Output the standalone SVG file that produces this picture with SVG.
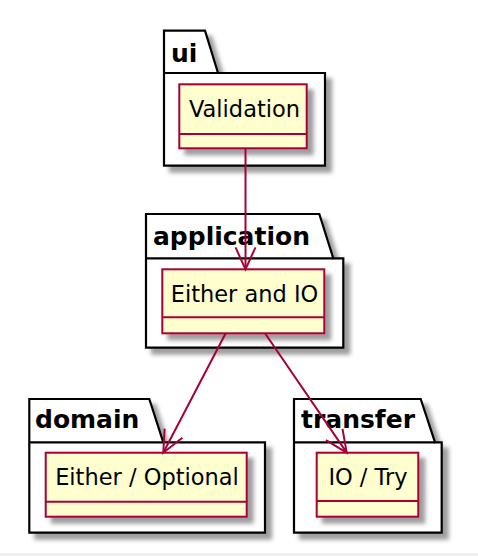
<svg xmlns="http://www.w3.org/2000/svg" width="478" height="556" viewBox="0 0 478 556">
<defs>
<filter id="sh" x="-10%" y="-10%" width="130%" height="130%">
<feDropShadow dx="6" dy="6" stdDeviation="2.2" flood-color="#000" flood-opacity="0.38"/>
</filter>
<style>
.pkg{fill:#fff;stroke:#000;stroke-width:2.2;filter:url(#sh)}
.tabl{stroke:#000;stroke-width:2.2;fill:none}
.pname{font-family:"DejaVu Sans",sans-serif;font-weight:bold;font-size:25px;fill:#000}
.cls{fill:#FEFECE;stroke:#A80036;stroke-width:2;filter:url(#sh)}
.sep{stroke:#A80036;stroke-width:2}
.cname{font-family:"DejaVu Sans",sans-serif;font-size:22.5px;fill:#000;text-anchor:middle}
.edge{stroke:#A80036;stroke-width:2;fill:none}
</style>
</defs>
<rect width="478" height="556" fill="#fff"/>
<rect x="0" y="553" width="478" height="3" fill="#efefef"/>

<g id="ui">
<path class="pkg" d="M164,30.7 H205 L218,73 H325 V165.7 H164 Z"/>
<line class="tabl" x1="164" y1="73" x2="218" y2="73"/>
<text class="pname" x="171" y="61.7">ui</text>
</g>
<g id="Validation">
<rect class="cls" x="179.3" y="84.3" width="127.4" height="64"/>
<line class="sep" x1="179.3" y1="134" x2="306.7" y2="134"/>
<text class="cname" x="244.5" y="117">Validation</text>
</g>

<g id="application">
<path class="pkg" d="M146,214 H319.3 L333.3,258.3 H343.3 V347.7 H146 Z"/>
<line class="tabl" x1="146" y1="258.3" x2="333.3" y2="258.3"/>
<text class="pname" x="153" y="245">application</text>
</g>
<g id="EitherAndIO">
<rect class="cls" x="162.3" y="269.3" width="162" height="64"/>
<line class="sep" x1="162.3" y1="317.3" x2="324.3" y2="317.3"/>
<text class="cname" x="244.5" y="301.8">Either and IO</text>
</g>

<g id="domain">
<path class="pkg" d="M29.3,399 H149.3 L163.3,442.3 H265 V532.7 H29.3 Z"/>
<line class="tabl" x1="29.3" y1="442.3" x2="163.3" y2="442.3"/>
<text class="pname" x="35" y="428.3">domain</text>
</g>
<g id="EitherOptional">
<rect class="cls" x="45.7" y="452.7" width="201" height="64"/>
<line class="sep" x1="45.7" y1="501.7" x2="246.7" y2="501.7"/>
<text class="cname" x="147" y="485.2">Either / Optional</text>
</g>

<g id="transfer">
<path class="pkg" d="M294,399 H420.7 L435,442.3 H441.7 V532.7 H294 Z"/>
<line class="tabl" x1="294" y1="442.3" x2="435" y2="442.3"/>
<text class="pname" x="301" y="428">transfer</text>
</g>
<g id="IOTry">
<rect class="cls" x="316.7" y="452.7" width="101.6" height="64"/>
<line class="sep" x1="316.7" y1="501" x2="418.3" y2="501"/>
<text class="cname" x="368" y="485.2">IO / Try</text>
</g>

<g id="connectors">
<line class="edge" x1="245.5" y1="148.3" x2="245.5" y2="268.5"/>
<polyline class="edge" points="235.5,247.3 245.5,269.3 255.5,247.3"/>
<line class="edge" x1="225.7" y1="333.3" x2="163.8" y2="451.8"/>
<polyline class="edge" points="164.6,428.6 163.3,452.7 182.4,437.8"/>
<line class="edge" x1="265" y1="333.3" x2="346.2" y2="451.9"/>
<polyline class="edge" points="342.5,428.9 346.7,452.7 326,440.2"/>
</g>
</svg>
